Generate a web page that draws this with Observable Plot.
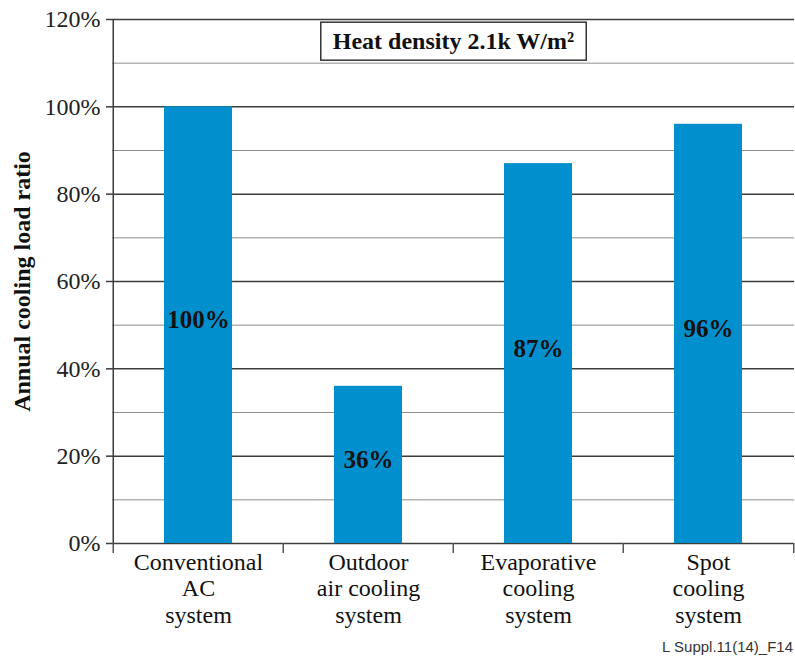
<!DOCTYPE html>
<html><head><meta charset="utf-8">
<script src="https://cdn.jsdelivr.net/npm/d3@7"></script>
<script src="https://cdn.jsdelivr.net/npm/@observablehq/plot@0.6"></script>
<style>
body{margin:0;background:#fff;}
#wrap{position:relative;width:795px;height:660px;}
#wrap svg text{font-family:"Liberation Serif","Times New Roman",serif;}
#caption{position:absolute;right:2px;top:638px;font-family:"Liberation Sans",Arial,sans-serif;font-size:15px;color:#333;white-space:nowrap;}
</style></head><body>
<div id="wrap"><div id="caption"></div></div>
<script>
const categories = ["Conventional\nAC\nsystem", "Outdoor\nair cooling\nsystem", "Evaporative\ncooling\nsystem", "Spot\ncooling\nsystem"];
const values = [100, 36, 87, 96];
const majorTicks = [0, 20, 40, 60, 80, 100, 120];
const minorTicks = [10, 30, 50, 70, 90, 110];
const title = "Heat density 2.1k W/m²";
const yLabel = "Annual cooling load ratio";
const caption = "L Suppl.11(14)_F14";

const data = categories.map((c, i) => ({category: c, value: values[i]}));
const width = 795, height = 660, marginLeft = 112, marginRight = 1, marginTop = 19, marginBottom = 117;
const bw = (width - marginLeft - marginRight) / categories.length;
const serif = '"Liberation Serif", "Times New Roman", serif';

const chart = Plot.plot({
  width, height, marginLeft, marginRight, marginTop, marginBottom,
  style: {fontFamily: serif, background: "#fff", color: "#111"},
  x: {domain: categories, paddingInner: 0.6, paddingOuter: 0.3, label: null},
  y: {domain: [0, 120], label: null},
  marks: [
    Plot.ruleY(minorTicks, {stroke: "#8c8c8c", strokeWidth: 1}),
    Plot.ruleY(majorTicks, {stroke: "#3c3c3c", strokeWidth: 1.5}),
    Plot.barY(data, {x: "category", y: "value", fill: "#0190cd"}),
    Plot.ruleX([categories[0]], {dx: -bw / 2, stroke: "#3c3c3c", strokeWidth: 1.5}),
    Plot.axisX({tickSize: 10, fill: "none", dx: -bw / 2, stroke: "#555", strokeWidth: 1.5, label: null}),
    Plot.axisX([categories[categories.length - 1]], {tickSize: 10, fill: "none", dx: bw / 2, stroke: "#555", strokeWidth: 1.5, label: null}),
    Plot.axisX({tickSize: 0, tickPadding: 7, fontSize: 24, fontFamily: serif, lineHeight: 1.12, label: null, fill: "#111"}),
    Plot.axisY(majorTicks, {tickSize: 6, tickPadding: 6, fontSize: 24, fontFamily: serif, stroke: "#3c3c3c", strokeWidth: 1.5, fill: "#222", tickFormat: d => d + "%", label: null}),
    Plot.text(data, {x: "category", y: d => d.value / 2, text: d => d.value + "%", fontWeight: "bold", fontSize: 25, fontFamily: serif, fill: "#111", dy: -5}),
    Plot.text([yLabel], {frameAnchor: "left", textAnchor: "middle", dx: -90, rotate: -90, fontWeight: "bold", fontSize: 24, fontFamily: serif, fill: "#111"}),
    Plot.text([title], {frameAnchor: "top", lineAnchor: "middle", dy: 22, fontWeight: "bold", fontSize: 24, fontFamily: serif, fill: "#111"})
  ]
});
document.getElementById("wrap").prepend(chart);
document.getElementById("caption").textContent = caption;
d3.select(chart).selectAll("text").attr("font-family", "Liberation Serif").style("font-family", serif);

// box around the title
d3.select(chart).selectAll("text").each(function () {
  if (this.textContent === title) {
    const b = this.getBBox();
    const t = this.getAttribute("transform");
    const r = document.createElementNS("http://www.w3.org/2000/svg", "rect");
    r.setAttribute("x", b.x - 12);
    r.setAttribute("y", b.y + b.height / 2 - 19);
    r.setAttribute("width", b.width + 24);
    r.setAttribute("height", 38);
    r.setAttribute("fill", "#fff");
    r.setAttribute("stroke", "#333");
    r.setAttribute("stroke-width", 1.5);
    if (t) r.setAttribute("transform", t);
    this.parentNode.insertBefore(r, this);
  }
});
</script>
</body></html>
